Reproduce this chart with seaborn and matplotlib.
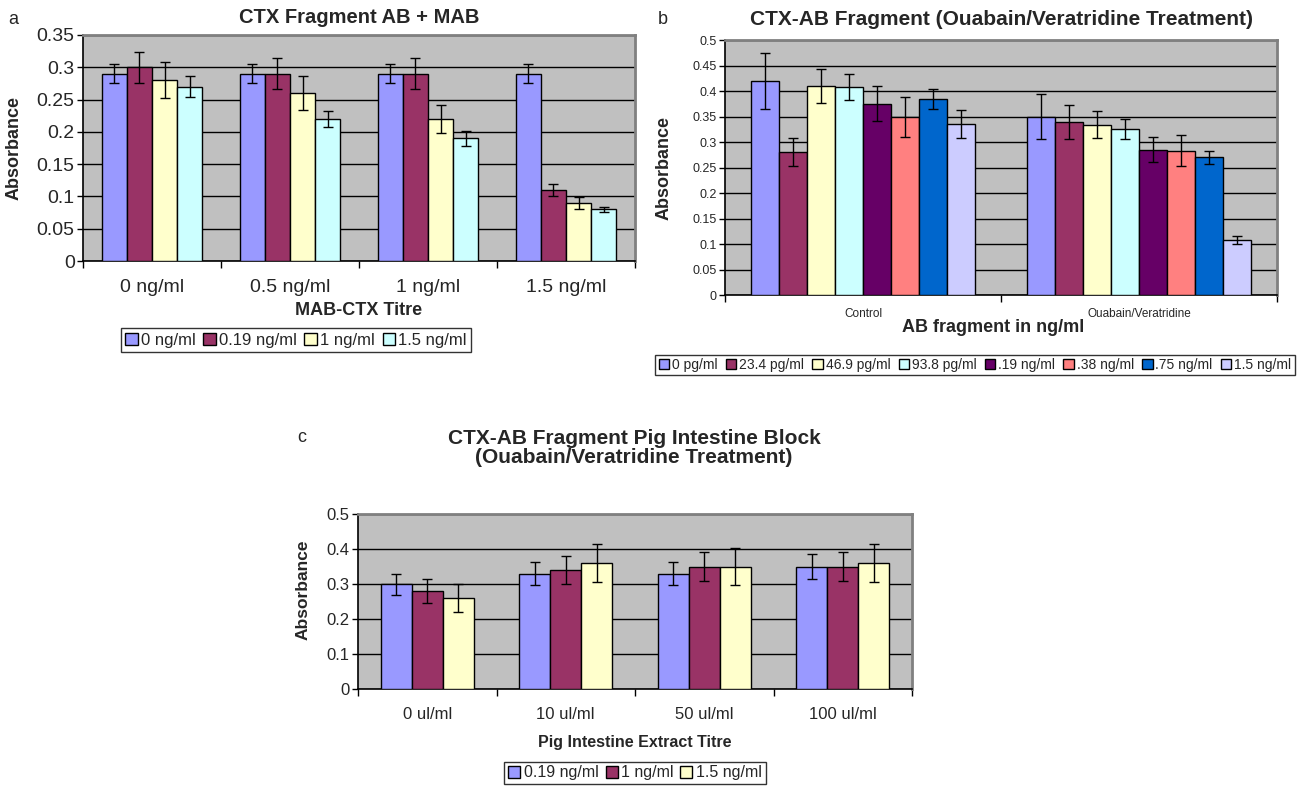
import numpy as np
import pandas as pd
import matplotlib
matplotlib.use("Agg")
import matplotlib.pyplot as plt
import seaborn as sns

# ---------------- data ----------------
a_categories = ["0 ng/ml", "0.5 ng/ml", "1 ng/ml", "1.5 ng/ml"]
a_series = ["0 ng/ml", "0.19 ng/ml", "1 ng/ml", "1.5 ng/ml"]
a_vals_0 = [0.29, 0.29, 0.29, 0.29]
a_vals_019 = [0.30, 0.29, 0.29, 0.11]
a_vals_1 = [0.28, 0.26, 0.22, 0.09]
a_vals_15 = [0.27, 0.22, 0.19, 0.08]
a_err_0 = [0.015, 0.015, 0.015, 0.015]
a_err_019 = [0.024, 0.024, 0.024, 0.009]
a_err_1 = [0.028, 0.026, 0.022, 0.009]
a_err_15 = [0.016, 0.013, 0.012, 0.004]

b_categories = ["Control", "Ouabain/Veratridine"]
b_series = ["0 pg/ml", "23.4 pg/ml", "46.9 pg/ml", "93.8 pg/ml",
            ".19 ng/ml", ".38 ng/ml", ".75 ng/ml", "1.5 ng/ml"]
b_control = [0.42, 0.28, 0.41, 0.408, 0.375, 0.349, 0.384, 0.335]
b_ouabain = [0.35, 0.339, 0.334, 0.326, 0.285, 0.283, 0.270, 0.108]
b_control_err = [0.055, 0.028, 0.033, 0.025, 0.034, 0.039, 0.019, 0.027]
b_ouabain_err = [0.045, 0.034, 0.027, 0.020, 0.025, 0.031, 0.013, 0.008]

c_categories = ["0 ul/ml", "10 ul/ml", "50 ul/ml", "100 ul/ml"]
c_series = ["0.19 ng/ml", "1 ng/ml", "1.5 ng/ml"]
c_vals_019 = [0.30, 0.33, 0.33, 0.35]
c_vals_1 = [0.28, 0.34, 0.35, 0.35]
c_vals_15 = [0.26, 0.36, 0.35, 0.36]
c_err_019 = [0.030, 0.033, 0.033, 0.035]
c_err_1 = [0.034, 0.041, 0.042, 0.042]
c_err_15 = [0.039, 0.054, 0.053, 0.054]

excel_colors = ["#9999FF", "#993366", "#FFFFCC", "#CCFFFF",
                "#660066", "#FF8080", "#0066CC", "#CCCCFF"]

# ---------------- style ----------------
sns.set_theme(style="white")
plt.rcParams["font.family"] = ["Liberation Sans", "DejaVu Sans"]

W, H = 1301, 793
fig = plt.figure(figsize=(W / 100, H / 100), dpi=100)


def ax_rect(l, r, t, b):
    return [l / W, 1 - b / H, (r - l) / W, (b - t) / H]


def long_df(cats, series, vals):
    rows = []
    for s, v in zip(series, vals):
        for c, y in zip(cats, v):
            rows.append({"cat": c, "series": s, "val": y})
    return pd.DataFrame(rows)


def draw_panel(ax, cats, series, vals, errs, colors, width, ymax, ystep,
               tick_fs, cat_fs, cat_pad):
    df = long_df(cats, series, vals)
    sns.barplot(data=df, x="cat", y="val", hue="series", order=cats,
                hue_order=series, palette=colors, errorbar=None,
                edgecolor="black", linewidth=1.0, width=width,
                saturation=1.0, ax=ax, legend=True, zorder=3)
    for cont, e in zip(ax.containers, errs):
        for bar, ee in zip(cont, e):
            xc = bar.get_x() + bar.get_width() / 2
            ax.errorbar(xc, bar.get_height(), yerr=ee, fmt="none",
                        ecolor="black", elinewidth=1.0, capsize=3.5,
                        capthick=1.0, zorder=4)
    ax.set_facecolor("#C0C0C0")
    ax.set_ylim(0, ymax)
    ax.set_xlim(-0.5, len(cats) - 0.5)
    ticks = np.round(np.arange(0, ymax + 1e-9, ystep), 3)
    ax.set_yticks(ticks)
    ax.set_yticklabels([("%g" % t) for t in ticks], fontsize=tick_fs)
    ax.yaxis.grid(True, color="black", linewidth=1.0, zorder=0)
    ax.set_axisbelow(True)
    ax.tick_params(axis="y", which="major", left=True, length=4, width=1,
                   color="black", pad=2)
    ax.tick_params(axis="x", which="major", length=0, labelsize=cat_fs,
                   pad=cat_pad)
    ax.set_xticks(np.arange(-0.5, len(cats) - 0.4, 1.0), minor=True)
    ax.tick_params(axis="x", which="minor", bottom=True, length=5, width=1,
                   color="black")
    for s in ["left", "bottom"]:
        ax.spines[s].set_color("black")
        ax.spines[s].set_linewidth(1.2)
    for s in ["top", "right"]:
        ax.spines[s].set_color("#808080")
        ax.spines[s].set_linewidth(2.0)
    ax.set_ylabel("")
    ax.set_xlabel("")
    handles, labels = ax.get_legend_handles_labels()
    ax.get_legend().remove()
    return handles, labels


def add_legend(handles, labels, cx, cy, fs, colsp):
    leg = fig.legend(handles, labels, loc="center",
                     bbox_to_anchor=(cx / W, 1 - cy / H), ncol=len(labels),
                     fontsize=fs, frameon=True, fancybox=False,
                     handlelength=0.75, handleheight=0.75, handletextpad=0.2,
                     columnspacing=colsp, borderpad=0.25, borderaxespad=0)
    leg.get_frame().set_edgecolor("black")
    leg.get_frame().set_linewidth(1.0)
    for h in leg.legend_handles:
        h.set_edgecolor("black")
        h.set_linewidth(1.0)
    return leg


# ---------------- panel a ----------------
ax_a = fig.add_axes(ax_rect(83, 635, 35, 261))
h, l = draw_panel(ax_a, a_categories, a_series,
                  [a_vals_0, a_vals_019, a_vals_1, a_vals_15],
                  [a_err_0, a_err_019, a_err_1, a_err_15],
                  excel_colors[:4], 0.73, 0.35, 0.05, 14, 14, 13)
ax_a.set_title("CTX Fragment AB + MAB", fontsize=14.5, fontweight="bold",
               pad=8.5)
fig.text(13 / W, 1 - 20 / H, "a", fontsize=13, va="center", ha="center")
fig.text(14 / W, 1 - 148 / H, "Absorbance", fontsize=13, fontweight="bold",
         rotation=90, va="center", ha="center")
fig.text(359 / W, 1 - 311 / H, "MAB-CTX Titre", fontsize=13,
         fontweight="bold", va="center", ha="center")
add_legend(h, l, 296, 340, 12, 0.45)

# ---------------- panel b ----------------
ax_b = fig.add_axes(ax_rect(725, 1277, 40, 295))
h, l = draw_panel(ax_b, b_categories, b_series,
                  [[c, o] for c, o in zip(b_control, b_ouabain)],
                  [[c, o] for c, o in zip(b_control_err, b_ouabain_err)],
                  excel_colors, 0.81, 0.5, 0.05, 9, 8.5, 9)
ax_b.set_title("CTX-AB Fragment (Ouabain/Veratridine Treatment)",
               fontsize=15, fontweight="bold", pad=10.5)
fig.text(663 / W, 1 - 20 / H, "b", fontsize=13, va="center", ha="center")
fig.text(664 / W, 1 - 168 / H, "Absorbance", fontsize=13, fontweight="bold",
         rotation=90, va="center", ha="center")
fig.text(993 / W, 1 - 327 / H, "AB fragment in ng/ml", fontsize=13,
         fontweight="bold", va="center", ha="center")
add_legend(h, l, 975, 365, 10.0, 0.6)

# ---------------- panel c ----------------
ax_c = fig.add_axes(ax_rect(358, 912, 514, 689))
h, l = draw_panel(ax_c, c_categories, c_series,
                  [c_vals_019, c_vals_1, c_vals_15],
                  [c_err_019, c_err_1, c_err_15],
                  excel_colors[:3], 0.67, 0.5, 0.1, 12, 12, 13)
fig.text(634 / W, 1 - 448 / H,
         "CTX-AB Fragment Pig Intestine Block\n(Ouabain/Veratridine Treatment)",
         fontsize=15, fontweight="bold", ha="center", va="center",
         linespacing=1.0)
fig.text(302 / W, 1 - 437 / H, "c", fontsize=13, va="center", ha="center")
fig.text(303 / W, 1 - 590 / H, "Absorbance", fontsize=12.5, fontweight="bold",
         rotation=90, va="center", ha="center")
fig.text(635 / W, 1 - 742 / H, "Pig Intestine Extract Titre", fontsize=11.5,
         fontweight="bold", va="center", ha="center")
add_legend(h, l, 635, 773, 11.5, 0.45)

fig.savefig("out.png", dpi=100, facecolor="white")
